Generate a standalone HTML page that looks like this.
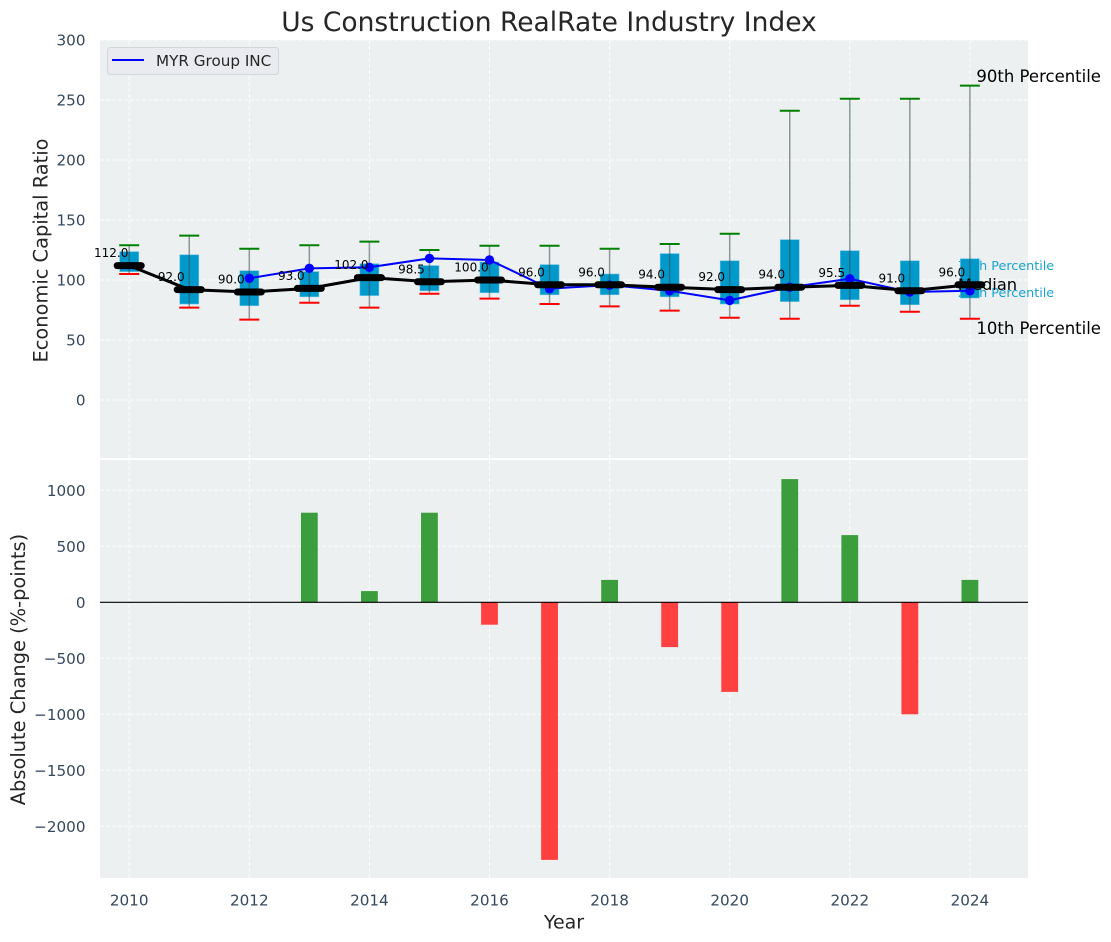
<!DOCTYPE html>
<html lang="en">
<head>
<meta charset="utf-8">
<title>Us Construction RealRate Industry Index</title>
<style>
html,body{margin:0;padding:0;background:#fff;}
svg{display:block;font-family:"DejaVu Sans","Liberation Sans",sans-serif;}
</style>
</head>
<body>
<svg id="chart" width="1111" height="942" viewBox="0 0 1111 942" xmlns="http://www.w3.org/2000/svg">
  <rect x="0" y="0" width="1111" height="942" fill="#ffffff"/>
  <text x="549" y="31" text-anchor="middle" font-size="26.5" fill="#262626">Us Construction RealRate Industry Index</text>
  <rect x="100" y="40" width="928" height="418" fill="#ecf0f1"/>
  <rect x="100" y="460" width="928" height="418" fill="#ecf0f1"/>
  <g id="grid"></g>
  <g id="ticks"></g>
  <g id="top"></g>
  <g id="bottom"></g>
  <text transform="translate(47.5,250.5) rotate(-90)" text-anchor="middle" font-size="19.4" fill="#262626">Economic Capital Ratio</text>
  <text transform="translate(25,669.5) rotate(-90)" text-anchor="middle" font-size="19.4" fill="#262626">Absolute Change (%-points)</text>
  <text x="564" y="928.5" text-anchor="middle" font-size="19" fill="#262626">Year</text>
  <g>
    <rect x="107.5" y="47.5" width="171" height="27" rx="3" fill="#e9ebf0" stroke="#d2d5d9" stroke-width="1"/>
    <line x1="112" y1="60" x2="144" y2="60" stroke="#0000ff" stroke-width="2"/>
    <text x="156" y="66" font-size="15.2" fill="#262626">MYR Group INC</text>
  </g>
</svg>
<script>
const years = [2010,2011,2012,2013,2014,2015,2016,2017,2018,2019,2020,2021,2022,2023,2024];
const p90 = [129,137,126,129,132,125,128.5,128.5,126,130,138.5,241,251,251,262];
const p75 = [123.6,121,107.7,107,113.6,112,115,112.8,105,122,116,133.6,124.4,116,117.7];
const median = [112,92,90,93,102,98.5,100,96,96,94,92,94,95.5,91,96];
const p25 = [107,80,78.6,86,87,91,89.4,87.7,87.7,86,80,82,83.6,79.4,85];
const p10 = [105,77,67,81,77,88.5,84.5,80,78,74.5,68.5,67.7,78.5,73.5,67.7];
const companyYears = [2012,2013,2014,2015,2016,2017,2018,2019,2020,2021,2022,2023,2024];
const companyValues = [101.4,109.7,110.6,118,116.7,92.8,95.7,91,83,94,101,90,91];
const changeYears = [2013,2014,2015,2016,2017,2018,2019,2020,2021,2022,2023,2024];
const changeValues = [800,100,800,-200,-2300,200,-400,-800,1100,600,-1000,200];
const xTicks = [2010,2012,2014,2016,2018,2020,2022,2024];
const topTicks = [0,50,100,150,200,250,300];
const bottomTicks = [-2000,-1500,-1000,-500,0,500,1000];

const NS = 'http://www.w3.org/2000/svg';
const xAxis = v => 129.2 + (v - 2010) * 60.05;
const yTop = v => 400 - v * 1.2;
const yBottom = v => 602.3 - v * 0.112;

function make(parent, tag, attrs, text) {
  const el = document.createElementNS(NS, tag);
  for (const k in attrs) el.setAttribute(k, attrs[k]);
  if (text !== undefined) el.textContent = text;
  parent.appendChild(el);
  return el;
}
const grid = document.getElementById('grid');
const ticks = document.getElementById('ticks');
const top_ = document.getElementById('top');
const bottom = document.getElementById('bottom');
const gridStyle = {stroke:'#ffffff','stroke-width':1,'stroke-dasharray':'4 2','stroke-opacity':0.85};

xTicks.forEach(t => {
  const x = xAxis(t);
  const a = make(grid,'line',Object.assign({x1:x,x2:x,y1:40,y2:458},gridStyle));
  
  
  const b = make(grid,'line',Object.assign({x1:x,x2:x,y1:460,y2:878},gridStyle));
  
  
  const l = make(ticks,'text',{x:x,y:905.5,'text-anchor':'middle','font-size':15.2,fill:'#34495e'},String(t));
  
  
});
topTicks.forEach(t => {
  const y = yTop(t);
  const g = make(grid,'line',Object.assign({x1:100,x2:1028,y1:y,y2:y},gridStyle));
  
  
  const l = make(ticks,'text',{x:85.5,y:y+5.5,'text-anchor':'end','font-size':15.2,fill:'#34495e'},String(t));
  
  
});
bottomTicks.forEach(t => {
  const y = yBottom(t);
  const g = make(grid,'line',Object.assign({x1:100,x2:1028,y1:y,y2:y},gridStyle));
  
  
  const l = make(ticks,'text',{x:85.5,y:y+5.5,'text-anchor':'end','font-size':15.2,fill:'#34495e'},String(t).replace('-','\u2212'));
  
  
});

/* quartile captions sit behind the boxes */
const last = years.length - 1;
const cap75 = make(top_,'text',{x:xAxis(years[last])-12,y:yTop(p75[last])+11,'font-size':12.75,fill:'#0099cc','fill-opacity':0.9},'75th Percentile');


const cap25 = make(top_,'text',{x:xAxis(years[last])-12,y:yTop(p25[last])-1.2,'font-size':12.75,fill:'#0099cc','fill-opacity':0.9},'25th Percentile');



years.forEach((yr,i) => {
  const x = xAxis(yr);
  const box = make(top_,'rect',{x:x-9.5,y:yTop(p75[i]),width:19,height:yTop(p25[i])-yTop(p75[i]),fill:'#0099cc','fill-opacity':1,stroke:'#66c2e0','stroke-width':0.6});
  
  
  const w = make(top_,'line',{x1:x,x2:x,y1:yTop(p90[i]),y2:yTop(p10[i]),stroke:'#3c4a50','stroke-opacity':0.55,'stroke-width':1.5});
  
  
  const c1 = make(top_,'line',{x1:x-10,x2:x+10,y1:yTop(p90[i]),y2:yTop(p90[i]),stroke:'#008000','stroke-width':2});
  
  
  const c2 = make(top_,'line',{x1:x-10,x2:x+10,y1:yTop(p10[i]),y2:yTop(p10[i]),stroke:'#ff0000','stroke-width':2});
  
  
});

const companyLine = make(top_,'polyline',{points:companyYears.map((y,i)=>xAxis(y)+','+yTop(companyValues[i])).join(' '),fill:'none',stroke:'#0000ff','stroke-width':2});


companyYears.forEach((y,i) => {
  const d = make(top_,'circle',{cx:xAxis(y),cy:yTop(companyValues[i]),r:4.7,fill:'#0000ff'});
  
  
});

const medianLine = make(top_,'polyline',{points:years.map((y,i)=>xAxis(y)+','+yTop(median[i])).join(' '),fill:'none',stroke:'#000000','stroke-width':3});


years.forEach((yr,i) => {
  const x = xAxis(yr), y = yTop(median[i]);
  const m = make(top_,'line',{x1:x-12,x2:x+12,y1:y,y2:y,stroke:'#000000','stroke-width':7,'stroke-linecap':'round'});
  
  
  const t = make(top_,'text',{x:xAxis(yr-0.3),y:y-8.5,'text-anchor':'middle','font-size':12,fill:'#000000'},median[i].toFixed(1));
  
  
});

const cap90 = make(top_,'text',{x:xAxis(years[last])+6.5,y:yTop(p90[last])-3.5,'font-size':16.5,fill:'#000000'},'90th Percentile');


const capMed = make(top_,'text',{x:xAxis(years[last])-12,y:yTop(median[last])+5,'font-size':16.3,fill:'#000000'},'Median');


const cap10 = make(top_,'text',{x:xAxis(years[last])+6.5,y:yTop(p10[last])+15,'font-size':16.5,fill:'#000000'},'10th Percentile');



changeYears.forEach((yr,i) => {
  const v = changeValues[i];
  const y0 = yBottom(0), y1 = yBottom(v);
  const b = make(bottom,'rect',{x:xAxis(yr)-8.4,y:Math.min(y0,y1),width:16.8,height:Math.abs(y1-y0),fill:v>=0?'#3c9d3c':'#ff4040'});
  
  
});
const zero = make(bottom,'line',{x1:100,x2:1028,y1:yBottom(0),y2:yBottom(0),stroke:'#000000','stroke-width':1.2});


</script>
</body>
</html>
